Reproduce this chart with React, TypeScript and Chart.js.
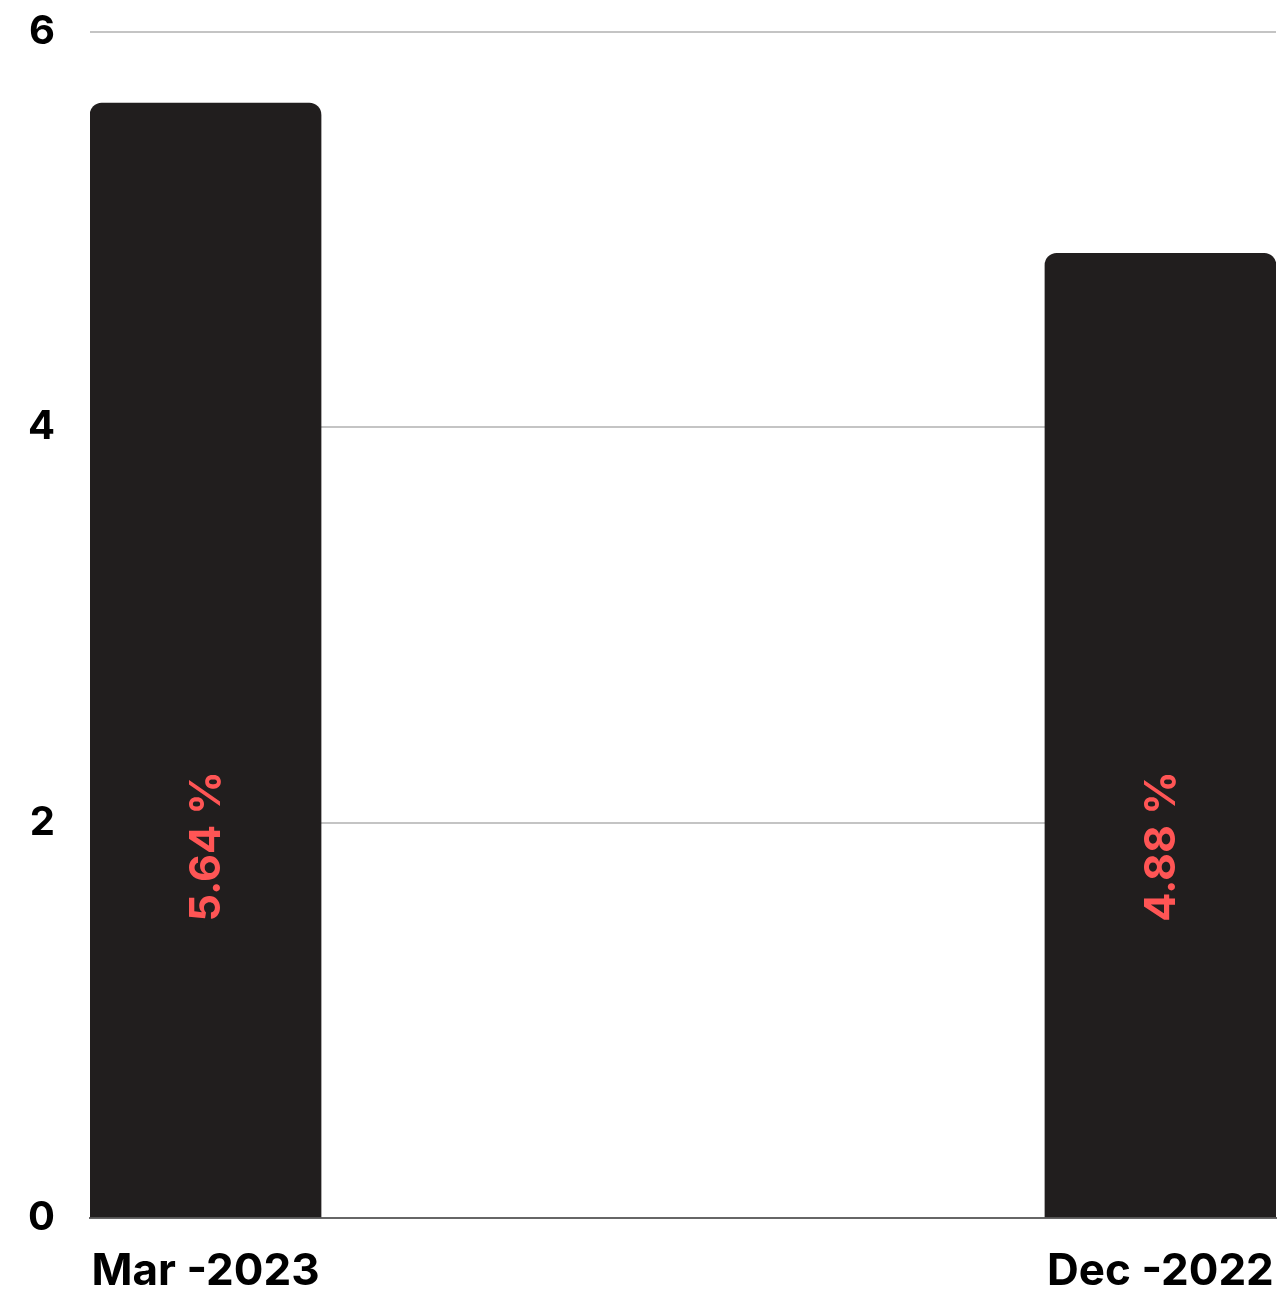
import React, { useEffect, useRef } from "react";
import { Chart, registerables } from "chart.js";

Chart.register(...registerables);

const CATEGORIES = ["Mar -2023", "Dec -2022"];
const VALUES = [5.64, 4.88];
const VALUE_LABELS = ["5.64 %", "4.88 %"];
const Y_TICKS = [0, 2, 4, 6];
const LABEL_CENTER_VALUE = 1.88;

const BAR_COLOR = "#211e1e";
const LABEL_COLOR = "#ff5555";
const FONT = "Inter, 'Noto Sans', sans-serif";

const barLabelPlugin = {
  id: "barLabels",
  afterDatasetsDraw(chart: any) {
    const ctx = chart.ctx;
    const meta = chart.getDatasetMeta(0);
    const yScale = chart.scales.y;
    ctx.save();
    ctx.fillStyle = LABEL_COLOR;
    ctx.font = `bold 43px ${FONT}`;
    ctx.textAlign = "center";
    ctx.textBaseline = "middle";
    meta.data.forEach((bar: any, i: number) => {
      const cy = yScale.getPixelForValue(LABEL_CENTER_VALUE);
      ctx.save();
      ctx.translate(bar.x + 2, cy);
      ctx.rotate(-Math.PI / 2);
      ctx.fillText(VALUE_LABELS[i], 0, 0);
      ctx.restore();
    });
    ctx.restore();
  },
};

export default function App() {
  const ref = useRef<HTMLCanvasElement>(null);
  useEffect(() => {
    document.body.style.margin = "0";
    const chart = new Chart(ref.current as HTMLCanvasElement, {
      type: "bar",
      data: {
        datasets: [
          {
            data: VALUES.map((v, i) => ({ x: i, y: v })),
            backgroundColor: BAR_COLOR,
            borderRadius: 12,
            barThickness: 231,
          },
        ],
      },
      options: {
        animation: false,
        responsive: false,
        maintainAspectRatio: false,
        layout: { padding: { top: 32, right: 3, left: 0, bottom: 0 } },
        plugins: { legend: { display: false }, tooltip: { enabled: false } },
        scales: {
          x: {
            type: "linear",
            offset: false,
            min: -0.121,
            max: 1.121,
            afterBuildTicks: (s: any) => {
              s.ticks = CATEGORIES.map((_, i) => ({ value: i }));
            },
            afterFit: (s: any) => {
              s.height = 79;
              s.paddingLeft = 0;
              s.paddingRight = 0;
            },
            ticks: {
              callback: (v: any) => CATEGORIES[v] ?? "",
              color: "#000",
              font: { family: FONT, size: 44, weight: "bold" },
              padding: 27,
              maxRotation: 0,
              autoSkip: false,
            },
            grid: { display: false, drawTicks: false },
            border: { display: true, color: "#666666", width: 2 },
          },
          y: {
            min: 0,
            max: 6,
            afterBuildTicks: (s: any) => {
              s.ticks = Y_TICKS.map((v) => ({ value: v }));
            },
            afterFit: (s: any) => {
              s.width = 90;
              s.paddingTop = 0;
              s.paddingBottom = 0;
            },
            ticks: {
              color: "#000",
              font: { family: FONT, size: 40, weight: "bold" },
              padding: 35,
            },
            grid: { color: "#c4c4c4", lineWidth: 2, drawTicks: false },
            border: { display: false },
          },
        },
      },
      plugins: [barLabelPlugin],
    } as any);
    return () => chart.destroy();
  }, []);
  return <canvas ref={ref} width={1279} height={1297} style={{ display: "block" }} />;
}
